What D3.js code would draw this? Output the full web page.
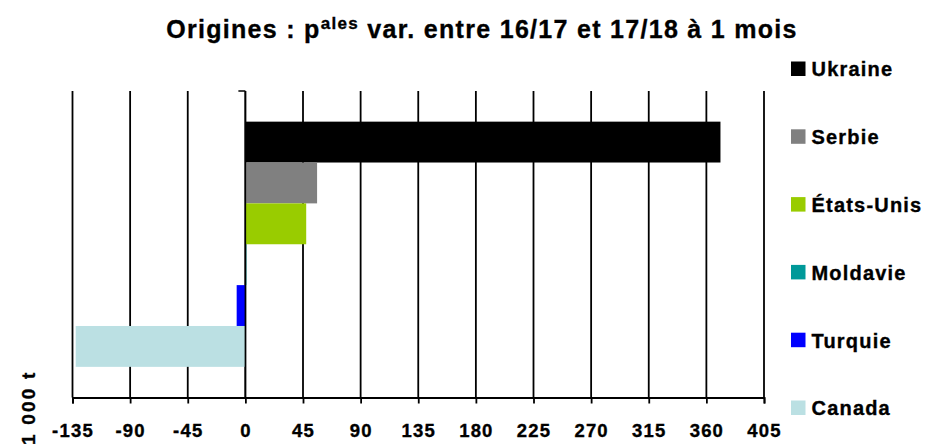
<!DOCTYPE html>
<html><head><meta charset="utf-8">
<script src="https://cdn.jsdelivr.net/npm/d3@7/dist/d3.min.js"></script>
<style>
html,body{margin:0;padding:0;background:#fff;}
svg{display:block;}
text{font-family:"Liberation Sans",Arial,sans-serif;font-weight:bold;fill:#000;stroke:#000;stroke-width:0.35px;}
</style></head>
<body>
<svg id="chart" width="925" height="444"></svg>
<script>
const categories = ["Ukraine","Serbie","États-Unis","Moldavie","Turquie","Canada"];
const values = [371, 56, 47.5, 0.4, -6.8, -132.5];
const colors = ["#000000","#808080","#99CC00","#009999","#0000FF","#BBE0E3"];
const tickValues = [-135,-90,-45,0,45,90,135,180,225,270,315,360,405];
const unitLabel = "1 000 t";

const svg = d3.select("#chart");
const plot = {left:72.5, right:764, top:91, bottom:397.5};

const x = d3.scaleLinear().domain([-135,405]).range([plot.left, plot.right]);
const outer = d3.scaleBand().domain(["grp"]).range([plot.top, plot.bottom]).paddingOuter(0.125).paddingInner(0);
const y = d3.scaleBand().domain(categories)
  .range([outer("grp"), outer("grp") + outer.bandwidth()]).padding(0);

// gridlines
svg.append("g").selectAll("line").data(tickValues).join("line")
  .attr("x1", d => x(d)).attr("x2", d => x(d))
  .attr("y1", plot.top).attr("y2", plot.bottom)
  .attr("stroke", "#000").attr("stroke-width", 1.8);

// bars
svg.append("g").selectAll("rect").data(categories).join("rect")
  .attr("x", (d,i) => Math.min(x(0), x(values[i])))
  .attr("width", (d,i) => Math.max(1, Math.abs(x(values[i]) - x(0))))
  .attr("y", d => y(d))
  .attr("height", y.bandwidth())
  .attr("fill", (d,i) => colors[i]);

// category axis at zero
svg.append("line").attr("x1", x(0)).attr("x2", x(0)).attr("y1", plot.top).attr("y2", plot.bottom)
  .attr("stroke", "#000").attr("stroke-width", 1.5);
svg.append("line").attr("x1", x(0) - 7).attr("x2", x(0)).attr("y1", plot.top).attr("y2", plot.top)
  .attr("stroke", "#000").attr("stroke-width", 1.5);

// value axis
const xAxis = d3.axisBottom(x).tickValues(tickValues).tickSize(6).tickPadding(0).tickFormat(d => String(d));
const gx = svg.append("g").attr("transform", `translate(0,${plot.bottom})`).call(xAxis);
gx.select(".domain").attr("stroke", "#000").attr("stroke-width", 1.8);
gx.selectAll(".tick line").attr("stroke", "#000").attr("stroke-width", 1.8);
gx.selectAll(".tick text").attr("y", 39).attr("dy", null)
  .style("font-size", "18.5px").style("letter-spacing", "1.2px")
  .style("font-family", '"Liberation Sans",Arial,sans-serif').style("font-weight", "bold")
  .attr("fill", "#000").attr("stroke", "#000").attr("stroke-width", 0.35);

// unit label
svg.append("text").attr("transform", "translate(35,445) rotate(-90)")
  .attr("text-anchor", "start").style("font-size", "19px").style("letter-spacing", "2.2px")
  .text(unitLabel);

// title
const title = svg.append("text").attr("x", 482).attr("y", 38).attr("text-anchor", "middle")
  .style("font-size", "25px").style("letter-spacing", "1.3px");
title.append("tspan").text("Origines : p");
title.append("tspan").attr("dy", -9).style("font-size", "17px").text("ales");
title.append("tspan").attr("dy", 9).text(" var. entre 16/17 et 17/18 à 1 mois");

// legend
const legendY = d3.scalePoint().domain(categories).range([69, 408]);
const lg = svg.append("g").selectAll("g").data(categories).join("g")
  .attr("transform", d => `translate(791,${legendY(d)})`);
lg.append("rect").attr("x", 0).attr("y", -7.5).attr("width", 14.5).attr("height", 14.5)
  .attr("fill", (d,i) => colors[i]).attr("stroke", "none");
lg.append("text").attr("x", 20.5).attr("y", 7.3).style("font-size", "20px").style("letter-spacing", "1.2px")
  .text(d => d);
</script>
</body></html>
